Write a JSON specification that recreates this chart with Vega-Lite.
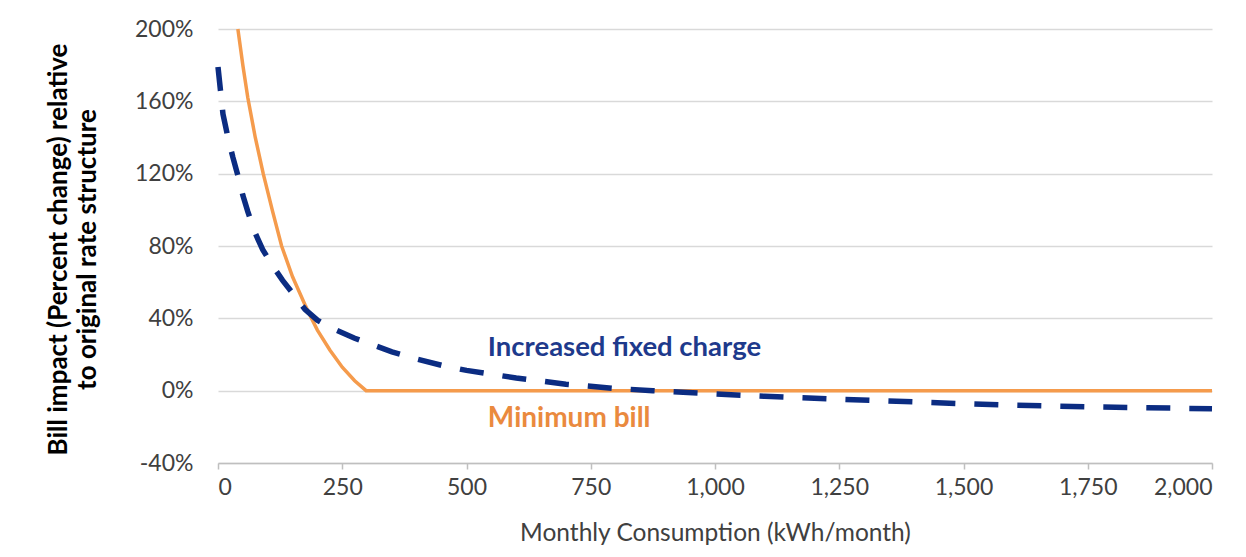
{
  "$schema": "https://vega.github.io/schema/vega-lite/v6.json",
  "autosize": {"type": "none"},
  "padding": {"left": 218, "top": 29, "right": 34, "bottom": 94},
  "width": 994,
  "height": 434,
  "background": "white",
  "config": {
    "view": {"stroke": null},
    "font": "Lato"
  },
  "datasets": {
    "curves": [
      {"kwh": 0, "impact": 1.79, "series": "Increased fixed charge"},
      {"kwh": 10, "impact": 1.53, "series": "Increased fixed charge"},
      {"kwh": 20, "impact": 1.4, "series": "Increased fixed charge"},
      {"kwh": 30, "impact": 1.29, "series": "Increased fixed charge"},
      {"kwh": 40, "impact": 1.19, "series": "Increased fixed charge"},
      {"kwh": 50, "impact": 1.08, "series": "Increased fixed charge"},
      {"kwh": 60, "impact": 0.99, "series": "Increased fixed charge"},
      {"kwh": 75, "impact": 0.87, "series": "Increased fixed charge"},
      {"kwh": 90, "impact": 0.78, "series": "Increased fixed charge"},
      {"kwh": 110, "impact": 0.69, "series": "Increased fixed charge"},
      {"kwh": 130, "impact": 0.61, "series": "Increased fixed charge"},
      {"kwh": 150, "impact": 0.54, "series": "Increased fixed charge"},
      {"kwh": 175, "impact": 0.45, "series": "Increased fixed charge"},
      {"kwh": 200, "impact": 0.39, "series": "Increased fixed charge"},
      {"kwh": 225, "impact": 0.35, "series": "Increased fixed charge"},
      {"kwh": 250, "impact": 0.32, "series": "Increased fixed charge"},
      {"kwh": 275, "impact": 0.29, "series": "Increased fixed charge"},
      {"kwh": 300, "impact": 0.265, "series": "Increased fixed charge"},
      {"kwh": 350, "impact": 0.215, "series": "Increased fixed charge"},
      {"kwh": 400, "impact": 0.175, "series": "Increased fixed charge"},
      {"kwh": 450, "impact": 0.14, "series": "Increased fixed charge"},
      {"kwh": 500, "impact": 0.112, "series": "Increased fixed charge"},
      {"kwh": 600, "impact": 0.07, "series": "Increased fixed charge"},
      {"kwh": 700, "impact": 0.036, "series": "Increased fixed charge"},
      {"kwh": 800, "impact": 0.012, "series": "Increased fixed charge"},
      {"kwh": 875, "impact": 0.0, "series": "Increased fixed charge"},
      {"kwh": 1000, "impact": -0.018, "series": "Increased fixed charge"},
      {"kwh": 1100, "impact": -0.031, "series": "Increased fixed charge"},
      {"kwh": 1250, "impact": -0.047, "series": "Increased fixed charge"},
      {"kwh": 1400, "impact": -0.062, "series": "Increased fixed charge"},
      {"kwh": 1500, "impact": -0.072, "series": "Increased fixed charge"},
      {"kwh": 1600, "impact": -0.08, "series": "Increased fixed charge"},
      {"kwh": 1750, "impact": -0.089, "series": "Increased fixed charge"},
      {"kwh": 2000, "impact": -0.1, "series": "Increased fixed charge"},
      {"kwh": 40, "impact": 2.0, "series": "Minimum bill"},
      {"kwh": 50, "impact": 1.8, "series": "Minimum bill"},
      {"kwh": 60, "impact": 1.62, "series": "Minimum bill"},
      {"kwh": 75, "impact": 1.4, "series": "Minimum bill"},
      {"kwh": 91, "impact": 1.2, "series": "Minimum bill"},
      {"kwh": 110, "impact": 0.99, "series": "Minimum bill"},
      {"kwh": 128, "impact": 0.8, "series": "Minimum bill"},
      {"kwh": 150, "impact": 0.63, "series": "Minimum bill"},
      {"kwh": 175, "impact": 0.475, "series": "Minimum bill"},
      {"kwh": 188, "impact": 0.4, "series": "Minimum bill"},
      {"kwh": 200, "impact": 0.335, "series": "Minimum bill"},
      {"kwh": 225, "impact": 0.225, "series": "Minimum bill"},
      {"kwh": 250, "impact": 0.13, "series": "Minimum bill"},
      {"kwh": 275, "impact": 0.055, "series": "Minimum bill"},
      {"kwh": 298, "impact": 0.0, "series": "Minimum bill"},
      {"kwh": 500, "impact": 0.0, "series": "Minimum bill"},
      {"kwh": 1000, "impact": 0.0, "series": "Minimum bill"},
      {"kwh": 1500, "impact": 0.0, "series": "Minimum bill"},
      {"kwh": 2000, "impact": 0.0, "series": "Minimum bill"}
    ],
    "labels": [
      {"label": "Increased fixed charge", "series": "Increased fixed charge"},
      {"label": "Minimum bill", "series": "Minimum bill"}
    ]
  },
  "layer": [
    {
      "data": {"name": "curves"},
      "transform": [{"filter": "datum.series === 'Minimum bill'"}],
      "mark": {"type": "line", "color": "#F59B4C", "strokeWidth": 3.5},
      "encoding": {
        "x": {
          "field": "kwh",
          "type": "quantitative",
          "scale": {"domain": [0, 2000], "nice": false},
          "axis": {
            "title": "Monthly Consumption (kWh/month)",
            "values": [0, 250, 500, 750, 1000, 1250, 1500, 1750, 2000],
            "labelExpr": "format(datum.value, ',')",
            "grid": false,
            "domainColor": "#BFBFBF",
            "domainWidth": 1.5,
            "tickColor": "#BFBFBF",
            "tickWidth": 1.5,
            "tickSize": 6,
            "labelFontSize": 23,
            "labelColor": "#404040",
            "labelPadding": 7,
            "labelFont": "Lato",
            "titleFont": "Lato",
            "titleFontSize": 24.5,
            "titleFontWeight": "normal",
            "titleColor": "#404040",
            "titlePadding": 22
          }
        },
        "y": {
          "field": "impact",
          "type": "quantitative",
          "scale": {"domain": [-0.4, 2.0], "nice": false, "zero": false},
          "axis": {
            "title": ["Bill impact (Percent change) relative", "to original rate structure"],
            "values": [-0.4, 0, 0.4, 0.8, 1.2, 1.6, 2.0],
            "labelExpr": "replace(format(datum.value, '.0%'), '−', '-')",
            "domain": false,
            "ticks": false,
            "grid": true,
            "gridColor": "#D9D9D9",
            "gridWidth": 1.5,
            "labelFontSize": 23,
            "labelColor": "#404040",
            "labelPadding": 25,
            "labelFont": "Lato",
            "titleFont": "Lato",
            "titleFontSize": 26,
            "titleFontWeight": "bold",
            "titleColor": "#000000",
            "titleLineHeight": 29,
            "titleX": -160,
            "titleY": 220,
            "titleBaseline": "middle",
            "titleAlign": "center",
            "titleAngle": -90
          }
        }
      }
    },
    {
      "data": {"name": "curves"},
      "transform": [{"filter": "datum.series === 'Increased fixed charge'"}],
      "mark": {"type": "line", "color": "#0B2C82", "strokeWidth": 5.5, "strokeDash": [24, 19]},
      "encoding": {
        "x": {"field": "kwh", "type": "quantitative"},
        "y": {"field": "impact", "type": "quantitative"}
      }
    },
    {
      "data": {"name": "labels"},
      "transform": [{"filter": "datum.series === 'Increased fixed charge'"}],
      "mark": {"type": "text", "align": "left", "baseline": "middle", "fontSize": 27.5, "fontWeight": "bold", "color": "#1E3A8C", "font": "Lato"},
      "encoding": {
        "x": {"datum": 543, "type": "quantitative"},
        "y": {"datum": 0.238, "type": "quantitative"},
        "text": {"field": "label", "type": "nominal"}
      }
    },
    {
      "data": {"name": "labels"},
      "transform": [{"filter": "datum.series === 'Minimum bill'"}],
      "mark": {"type": "text", "align": "left", "baseline": "middle", "fontSize": 28, "fontWeight": "bold", "color": "#EA8A3E", "font": "Lato"},
      "encoding": {
        "x": {"datum": 543, "type": "quantitative"},
        "y": {"datum": -0.155, "type": "quantitative"},
        "text": {"field": "label", "type": "nominal"}
      }
    }
  ]
}
